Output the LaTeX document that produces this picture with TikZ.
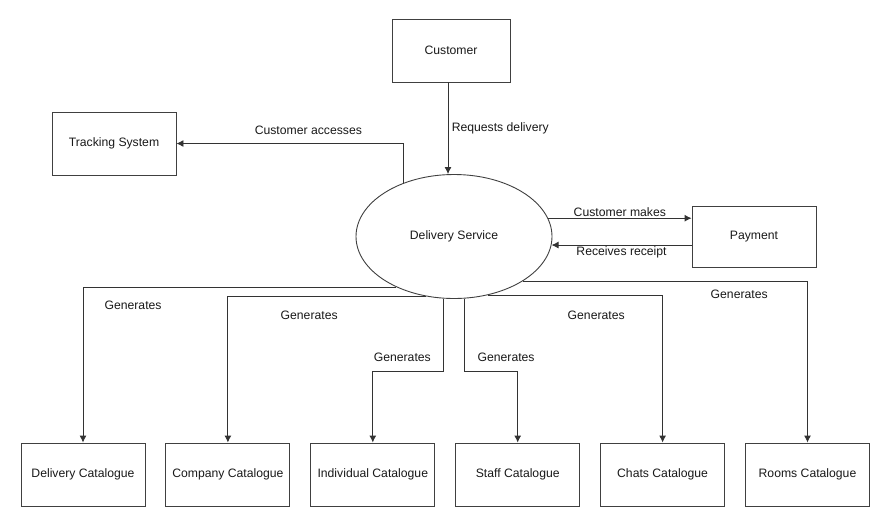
\documentclass[tikz,border=0pt]{standalone}
\usepackage{fontspec}
\setmainfont{Liberation Sans}
\usetikzlibrary{positioning}
\usetikzlibrary{shapes.geometric}
\usetikzlibrary{arrows.meta}

\begin{document}
\begin{tikzpicture}[x=1pt, y=-1pt,
    boxnode/.style={rectangle, draw=black!75, line width=0.9pt, minimum width=124pt, minimum height=63pt, inner sep=0pt},
    procnode/.style={ellipse, draw=black!75, line width=0.9pt, minimum width=196pt, minimum height=124pt, inner sep=0pt},
    flow/.style={draw=black!80, line width=0.9pt, -{Latex[length=7pt,width=7pt]}},
    node distance=20pt, font=\fontsize{12.2}{14}\selectfont, text=black!90]

        \useasboundingbox (0,0) rectangle (877,528);

        \node[boxnode, minimum width=118pt]  (customer)  at (451,50.5)  {Customer};
        \node[boxnode]    (tracking)  at (114,143.5) {Tracking System};
        \node[procnode]   (service)   at (454,236.5) {Delivery Service};
        \node[boxnode, minimum height=61pt]  (payment)  at (754,236.5) {Payment};

        \node[boxnode]    (delcat)    at (83,474.5)  {Delivery Catalogue};
        \node[boxnode]    (compcat)   [right=of delcat]  {Company Catalogue};
        \node[boxnode]    (indcat)    [right=of compcat] {Individual Catalogue};
        \node[boxnode]    (staffcat)  [right=of indcat]  {Staff Catalogue};
        \node[boxnode]    (chatcat)   [right=of staffcat] {Chats Catalogue};
        \node[boxnode]    (roomcat)   [right=of chatcat] {Rooms Catalogue};

        \draw[flow] ([xshift=-3pt]customer.south) -- node[right]{Requests delivery} ([xshift=-6pt]service.north);
        \draw[flow] (service.133) |- node[pos=0.71, above, inner sep=8pt]{Customer accesses} (tracking.east);

        \draw[flow] (service.11) -- node[above, inner sep=1.5pt]{Customer makes} (service.11 -| payment.west);
        \draw[flow] (payment.west |- service.-5) -- node[below, inner sep=1.5pt]{Receives receipt} (service.-5);

        \draw[flow] (service.221) -| node[pos=0.42, below, inner sep=14pt]{Generates} (delcat.north);
        \draw[flow] (service.245) -| node[pos=0.295, below, inner sep=14pt]{Generates} (compcat.north);
        \draw[flow] (service.260) -- ++(0,73) -| node[pos=0.29, above, inner sep=10pt]{Generates} (indcat.north);
        \draw[flow] (service.280) -- ++(0,73) -| node[pos=0.39, above, inner sep=10pt]{Generates} (staffcat.north);
        \draw[flow] (service.300) -| node[pos=0.31, below, inner sep=15pt]{Generates} (chatcat.north);
        \draw[flow] (service.327) -| node[pos=0.38, below, inner sep=8pt]{Generates} (roomcat.north);

\end{tikzpicture}
\end{document}
